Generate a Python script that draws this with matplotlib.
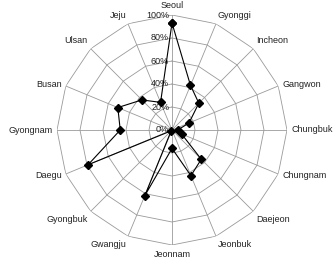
import numpy as np
import matplotlib
matplotlib.use("Agg")
import matplotlib.pyplot as plt
from matplotlib.transforms import offset_copy

plt.rcParams['font.family'] = ['Liberation Sans', 'DejaVu Sans']

# ---- data ----
regions = ["Seoul", "Gyonggi", "Incheon", "Gangwon", "Chungbuk", "Chungnam",
           "Daejeon", "Jeonbuk", "Jeonnam", "Gwangju", "Gyongbuk", "Daegu",
           "Gyongnam", "Busan", "Ulsan", "Jeju"]
share = [93, 42, 33, 16, 5, 9, 36, 43, 16, 62, 1, 79, 45, 51, 37, 26]
rings = [0, 20, 40, 60, 80, 100]
ring_labels = ["0%", "20%", "40%", "60%", "80%", "100%"]

n = len(regions)
angles = np.linspace(0, 2 * np.pi, n, endpoint=False)
closed_ang = np.append(angles, angles[0])

fig = plt.figure(figsize=(3.33, 2.6), dpi=100)
ax = fig.add_axes([57 / 333, 15 / 260, 230 / 333, 230 / 260], projection='polar')
ax.set_theta_zero_location('N')
ax.set_theta_direction(-1)
ax.set_ylim(0, 100)
ax.grid(False)
ax.spines['polar'].set_visible(False)
ax.set_xticks([])
ax.set_yticks([])
ax.patch.set_alpha(0)

grid_col = '#9a9a9a'
# polygon rings
for r in rings[1:]:
    ax.plot(closed_ang, [r] * (n + 1), color=grid_col, lw=0.6, zorder=1)
# spokes
for a in angles:
    ax.plot([a, a], [0, 100], color=grid_col, lw=0.6, zorder=1)

# data series
vals = share + share[:1]
ax.plot(closed_ang, vals, color='black', lw=0.8, marker='D', markersize=4.3,
        markerfacecolor='black', zorder=3)

# radial labels left of the top spoke
trans = offset_copy(ax.transData, fig=fig, x=-2, y=0, units='points')
for r, lab in zip(rings, ring_labels):
    ax.text(0, r, lab, transform=trans, ha='right', va='center', fontsize=6.5,
            color='#222222', zorder=2)

# category labels
for a, name in zip(angles, regions):
    s, c = np.sin(a), np.cos(a)
    ha = 'center' if abs(s) < 0.1 else ('left' if s > 0 else 'right')
    va = 'center' if abs(c) < 0.5 else ('bottom' if c > 0 else 'top')
    ax.text(a, 104, name, ha=ha, va=va, fontsize=6.5, color='#222222')

fig.savefig("out.png", dpi=100)
